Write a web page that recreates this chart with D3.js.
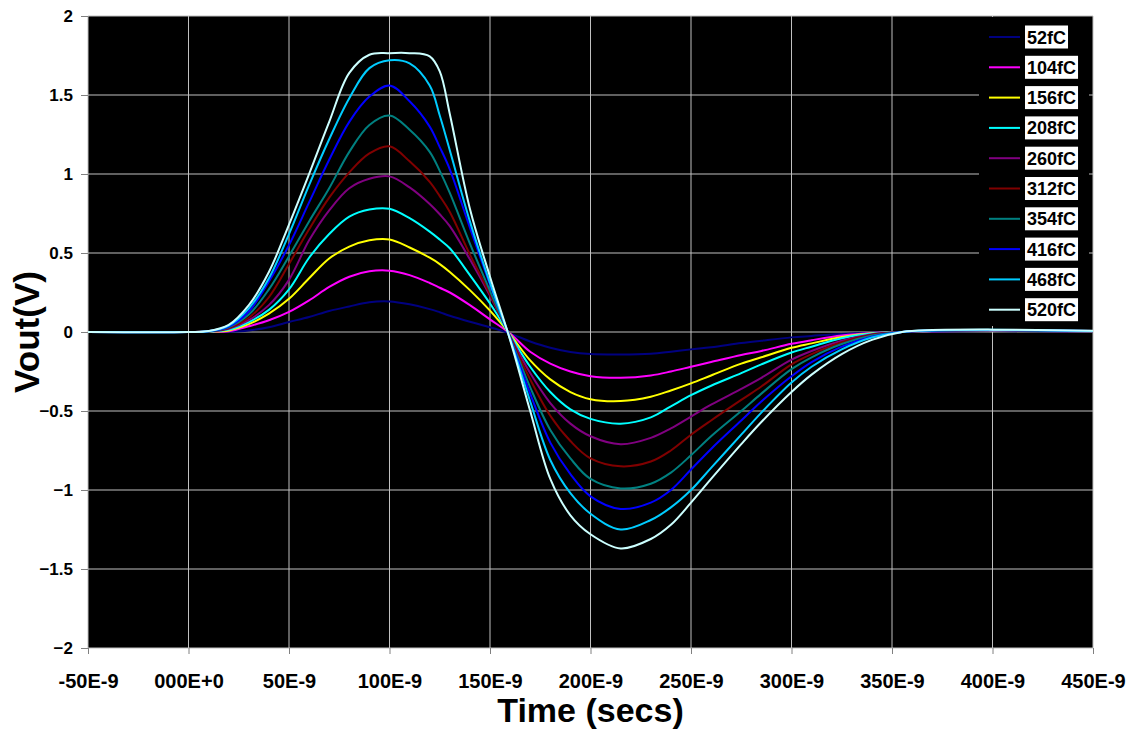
<!DOCTYPE html>
<html>
<head>
<meta charset="utf-8">
<script src="https://cdn.jsdelivr.net/npm/d3@7"></script>
<style>
  body { margin: 0; background: #fff; }
  text { font-family: "Liberation Sans", Arial, sans-serif; font-weight: bold; }
</style>
</head>
<body>
<svg id="chart"></svg>
<script>
// time in ns
const times = [-50, 0, 10, 20, 30, 40, 50, 60, 70, 80, 90, 100, 110, 120, 125, 130, 140, 150, 160, 170, 180, 190, 200, 215, 230, 240, 250, 260, 275, 285, 300, 310, 325, 340, 355, 370, 400, 450];

const labels = ["52fC", "104fC", "156fC", "208fC", "260fC", "312fC", "354fC", "416fC", "468fC", "520fC"];
const colors = ["#000080", "#ff00ff", "#ffff00", "#00ffff", "#800080", "#800000", "#008080", "#0000ff", "#00ccff", "#ccffff"];

const v52 = [0, 0, 0.001, 0.002, 0.01, 0.03, 0.063, 0.095, 0.133, 0.162, 0.188, 0.193, 0.175, 0.145, 0.125, 0.103, 0.065, 0.03, -0.01, -0.06, -0.1, -0.127, -0.14, -0.143, -0.138, -0.125, -0.11, -0.097, -0.07, -0.055, -0.034, -0.025, -0.012, -0.004, 0, 0.003, 0.006, 0.003];
const v104 = [0, 0, 0.001, 0.005, 0.036, 0.074, 0.127, 0.2, 0.285, 0.35, 0.384, 0.388, 0.36, 0.31, 0.28, 0.25, 0.17, 0.08, -0.01, -0.125, -0.2, -0.25, -0.28, -0.29, -0.275, -0.25, -0.22, -0.19, -0.145, -0.12, -0.075, -0.052, -0.022, -0.006, 0, 0.005, 0.008, 0.004];
const v156 = [0, 0, 0.002, 0.01, 0.05, 0.116, 0.21, 0.34, 0.465, 0.54, 0.58, 0.585, 0.535, 0.47, 0.43, 0.38, 0.265, 0.135, -0.015, -0.18, -0.3, -0.38, -0.425, -0.437, -0.41, -0.37, -0.325, -0.275, -0.2, -0.16, -0.1, -0.072, -0.032, -0.008, 0, 0.006, 0.01, 0.005];
const v208 = [0, 0, 0.002, 0.015, 0.063, 0.14, 0.27, 0.47, 0.62, 0.73, 0.775, 0.78, 0.72, 0.635, 0.585, 0.53, 0.36, 0.18, -0.02, -0.22, -0.38, -0.49, -0.55, -0.58, -0.54, -0.47, -0.4, -0.34, -0.26, -0.205, -0.13, -0.093, -0.04, -0.01, 0, 0.006, 0.01, 0.005];
const v260 = [0, 0, 0.003, 0.02, 0.075, 0.17, 0.33, 0.58, 0.77, 0.91, 0.97, 0.985, 0.915, 0.81, 0.745, 0.67, 0.46, 0.23, -0.025, -0.26, -0.45, -0.58, -0.66, -0.71, -0.67, -0.61, -0.535, -0.46, -0.36, -0.29, -0.175, -0.12, -0.055, -0.014, 0, 0.007, 0.01, 0.005];
const v312 = [0, 0, 0.003, 0.025, 0.09, 0.22, 0.43, 0.65, 0.85, 1.01, 1.13, 1.175, 1.08, 0.95, 0.86, 0.76, 0.49, 0.24, -0.03, -0.3, -0.53, -0.69, -0.8, -0.85, -0.82, -0.75, -0.65, -0.56, -0.43, -0.345, -0.205, -0.14, -0.065, -0.018, 0, 0.008, 0.012, 0.006];
const v354 = [0, 0, 0.004, 0.03, 0.11, 0.27, 0.48, 0.7, 0.91, 1.14, 1.31, 1.37, 1.28, 1.14, 1.02, 0.88, 0.56, 0.26, -0.035, -0.35, -0.62, -0.8, -0.93, -0.99, -0.96, -0.89, -0.78, -0.66, -0.5, -0.39, -0.235, -0.16, -0.076, -0.022, 0, 0.008, 0.012, 0.006];
const v416 = [0, 0, 0.005, 0.035, 0.13, 0.32, 0.55, 0.82, 1.09, 1.33, 1.49, 1.56, 1.46, 1.3, 1.17, 1.03, 0.66, 0.3, -0.04, -0.39, -0.7, -0.9, -1.04, -1.12, -1.08, -1.0, -0.87, -0.74, -0.56, -0.44, -0.28, -0.19, -0.093, -0.03, 0, 0.01, 0.013, 0.006];
const v468 = [0, 0, 0.005, 0.04, 0.15, 0.34, 0.62, 0.93, 1.22, 1.48, 1.67, 1.72, 1.7, 1.56, 1.37, 1.15, 0.7, 0.31, -0.045, -0.44, -0.81, -1.02, -1.15, -1.25, -1.19, -1.11, -1.0, -0.86, -0.65, -0.51, -0.32, -0.22, -0.11, -0.035, 0, 0.01, 0.014, 0.007];
const v520 = [0, 0, 0.006, 0.045, 0.17, 0.38, 0.68, 1.0, 1.33, 1.64, 1.755, 1.765, 1.765, 1.745, 1.65, 1.38, 0.78, 0.35, -0.05, -0.5, -0.93, -1.16, -1.28, -1.37, -1.31, -1.22, -1.08, -0.93, -0.71, -0.57, -0.38, -0.27, -0.14, -0.05, 0, 0.012, 0.015, 0.008];

const seriesValues = [v52, v104, v156, v208, v260, v312, v354, v416, v468, v520];

const xTicks = [-50, 0, 50, 100, 150, 200, 250, 300, 350, 400, 450];
const xTickLabels = ["-50E-9", "000E+0", "50E-9", "100E-9", "150E-9", "200E-9", "250E-9", "300E-9", "350E-9", "400E-9", "450E-9"];
const yTicks = [-2, -1.5, -1, -0.5, 0, 0.5, 1, 1.5, 2];

const width = 1137, height = 731;
const margin = { top: 16, right: 44, bottom: 83, left: 88 };

const svg = d3.select("#chart").attr("width", width).attr("height", height);

const x = d3.scaleLinear().domain([-50, 450]).range([margin.left, width - margin.right]);
const y = d3.scaleLinear().domain([-2, 2]).range([height - margin.bottom, margin.top]);

// plot background
svg.append("rect")
  .attr("x", x(-50)).attr("y", y(2))
  .attr("width", x(450) - x(-50)).attr("height", y(-2) - y(2))
  .attr("fill", "#000");

// grid
svg.append("g")
  .selectAll("line")
  .data(xTicks)
  .join("line")
  .attr("x1", d => x(d)).attr("x2", d => x(d))
  .attr("y1", y(2)).attr("y2", y(-2))
  .attr("stroke", "#c0c0c0").attr("stroke-width", 1);

svg.append("g")
  .selectAll("line")
  .data(yTicks)
  .join("line")
  .attr("x1", x(-50)).attr("x2", x(450))
  .attr("y1", d => y(d)).attr("y2", d => y(d))
  .attr("stroke", "#c0c0c0").attr("stroke-width", 1);

// axes
const yAxis = svg.append("g")
  .attr("transform", `translate(${x(-50)},0)`)
  .call(d3.axisLeft(y).tickValues(yTicks).tickSize(7).tickPadding(8).tickFormat(d => d3.format("")(d)));
yAxis.select(".domain").remove();
yAxis.selectAll("line").attr("stroke", "#808080");
yAxis.selectAll("text").attr("font-size", 17).attr("fill", "#000")
  .attr("font-family", "Liberation Sans, Arial, sans-serif").attr("font-weight", "bold");

const xAxis = svg.append("g")
  .attr("transform", `translate(0,${y(-2)})`)
  .call(d3.axisBottom(x).tickValues(xTicks).tickSize(6).tickPadding(20)
    .tickFormat((d, i) => xTickLabels[i]));
xAxis.select(".domain").remove();
xAxis.selectAll("line").attr("stroke", "#808080");
xAxis.selectAll("text").attr("font-size", 20).attr("fill", "#000")
  .attr("font-family", "Liberation Sans, Arial, sans-serif").attr("font-weight", "bold");

// curves
const line = d3.line()
  .x((d, i) => x(times[i]))
  .y(d => y(d))
  .curve(d3.curveCatmullRom.alpha(0.5));

svg.append("g")
  .selectAll("path")
  .data(seriesValues)
  .join("path")
  .attr("d", d => line(d))
  .attr("fill", "none")
  .attr("stroke", (d, i) => colors[i])
  .attr("stroke-width", 2);

// legend
const legend = svg.append("g");
legend.append("rect")
  .attr("x", 979).attr("y", 17).attr("width", 110).attr("height", 309)
  .attr("fill", "#000");

const rows = legend.selectAll("g.row")
  .data(labels)
  .join("g")
  .attr("class", "row")
  .attr("transform", (d, i) => `translate(0,${37 + i * 30.3})`);

rows.append("line")
  .attr("x1", 989).attr("x2", 1020)
  .attr("y1", 0).attr("y2", 0)
  .attr("stroke", (d, i) => colors[i])
  .attr("stroke-width", 2);

rows.each(function (d) {
  const g = d3.select(this);
  const t = g.append("text")
    .attr("x", 1027).attr("y", 6.5)
    .attr("font-size", 18)
    .attr("fill", "#000")
    .text(d);
  const w = t.node().getComputedTextLength();
  g.insert("rect", "text")
    .attr("x", 1025).attr("y", -11.5)
    .attr("width", w + 4).attr("height", 23)
    .attr("fill", "#fff");
});

// axis titles
svg.append("text")
  .attr("transform", `translate(39,${y(0)}) rotate(-90)`)
  .attr("text-anchor", "middle")
  .attr("font-size", 35)
  .text("Vout(V)");

svg.append("text")
  .attr("x", (x(-50) + x(450)) / 2)
  .attr("y", 722)
  .attr("text-anchor", "middle")
  .attr("font-size", 34)
  .text("Time (secs)");
</script>
</body>
</html>
